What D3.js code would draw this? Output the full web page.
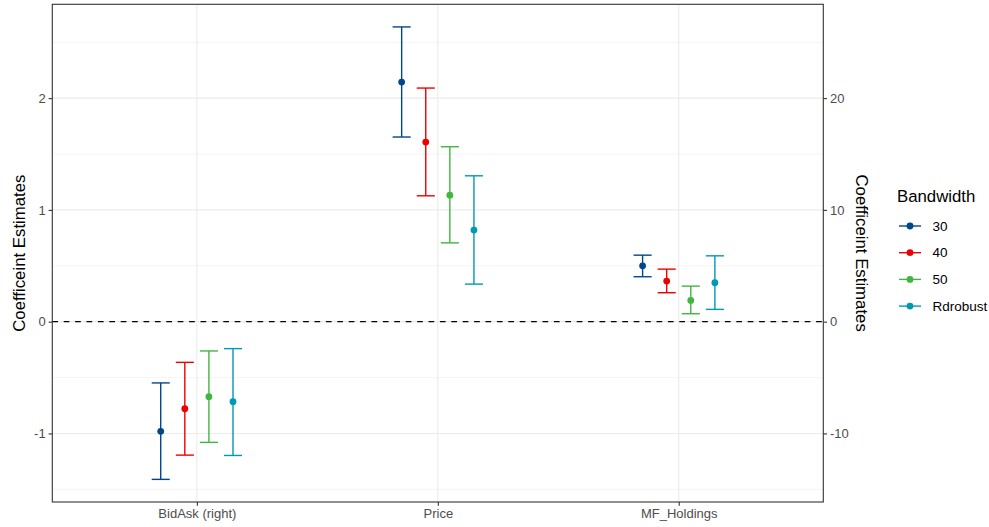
<!DOCTYPE html>
<html>
<head>
<meta charset="utf-8">
<script src="https://cdn.jsdelivr.net/npm/d3@7"></script>
<style>
  html, body { margin: 0; padding: 0; background: #ffffff; }
  svg { display: block; font-family: "Liberation Sans", Arial, Helvetica, sans-serif; }
</style>
</head>
<body>
<svg id="chart" width="989" height="527"></svg>
<script>
// Outcome variables (x categories) and bandwidth groups
const categories = ["BidAsk (right)", "Price", "MF_Holdings"];
const groups = ["30", "40", "50", "Rdrobust"];
const groupColors = ["#00468B", "#ED0000", "#42B540", "#0099B4"];

// Point estimates per group, in category order (BidAsk plotted on the /10 scale)
const est30       = [-0.981, 2.144, 0.500];
const est40       = [-0.779, 1.607, 0.363];
const est50       = [-0.671, 1.132, 0.190];
const estRd       = [-0.716, 0.819, 0.348];

// Lower and upper confidence bounds per group
const lo30        = [-1.411, 1.652, 0.402];
const hi30        = [-0.548, 2.637, 0.595];
const lo40        = [-1.194, 1.126, 0.259];
const hi40        = [-0.364, 2.090, 0.470];
const lo50        = [-1.080, 0.705, 0.071];
const hi50        = [-0.262, 1.565, 0.318];
const loRd        = [-1.197, 0.336, 0.110];
const hiRd        = [-0.241, 1.305, 0.589];

// Axis ticks
const leftTicks = [-1, 0, 1, 2];
const minorTicks = [-1.5, -0.5, 0.5, 1.5, 2.5];
const rightTicks = [-10, 0, 10, 20];
const secondaryFactor = 10;

const estimates = [est30, est40, est50, estRd];
const lowers = [lo30, lo40, lo50, loRd];
const uppers = [hi30, hi40, hi50, hiRd];

const rows = [];
groups.forEach((g, gi) => {
  categories.forEach((c, ci) => {
    rows.push({ group: g, gi, category: c, est: estimates[gi][ci], lo: lowers[gi][ci], hi: uppers[gi][ci] });
  });
});

const svg = d3.select("#chart");
const panel = { left: 52.3, right: 823.3, top: 4.3, bottom: 502 };

// Continuous y with 5% expansion on each side
const yMin = d3.min(rows, d => d.lo);
const yMax = d3.max(rows, d => d.hi);
const pad = (yMax - yMin) * 0.05;
const y = d3.scaleLinear().domain([yMin - pad, yMax + pad]).range([panel.bottom, panel.top]);
const ySec = d3.scaleLinear().domain(y.domain().map(v => v * secondaryFactor)).range(y.range());

// Discrete x with ggplot-style 0.6 expansion
const x = d3.scalePoint().domain(categories).range([panel.left, panel.right]).padding(0.6);
const step = x.step();
const dodgeWidth = 0.4 * step;
const slot = dodgeWidth / groups.length;
const capHalf = (0.3 / groups.length) * step / 2;
const color = d3.scaleOrdinal().domain(groups).range(groupColors);
const xPos = d => x(d.category) - dodgeWidth / 2 + slot * (d.gi + 0.5);

// Grid lines
const grid = svg.append("g");
grid.selectAll(".minor").data(minorTicks).join("line")
  .attr("x1", panel.left).attr("x2", panel.right)
  .attr("y1", d => y(d)).attr("y2", d => y(d))
  .attr("stroke", "#EBEBEB").attr("stroke-width", 0.55);
grid.selectAll(".major").data(leftTicks).join("line")
  .attr("x1", panel.left).attr("x2", panel.right)
  .attr("y1", d => y(d)).attr("y2", d => y(d))
  .attr("stroke", "#EBEBEB").attr("stroke-width", 1.1);
grid.selectAll(".vmajor").data(categories).join("line")
  .attr("x1", d => x(d)).attr("x2", d => x(d))
  .attr("y1", panel.top).attr("y2", panel.bottom)
  .attr("stroke", "#EBEBEB").attr("stroke-width", 1.1);

// Zero reference line
svg.append("line")
  .attr("x1", panel.left).attr("x2", panel.right)
  .attr("y1", y(0)).attr("y2", y(0))
  .attr("stroke", "#000").attr("stroke-width", 1.4)
  .attr("stroke-dasharray", "5.7,5.7");

// Error bars
const bars = svg.append("g").selectAll("g").data(rows).join("g")
  .attr("stroke", d => color(d.group)).attr("stroke-width", 1.4);
bars.append("line")
  .attr("x1", xPos).attr("x2", xPos)
  .attr("y1", d => y(d.lo)).attr("y2", d => y(d.hi));
bars.append("line")
  .attr("x1", d => xPos(d) - capHalf).attr("x2", d => xPos(d) + capHalf)
  .attr("y1", d => y(d.lo)).attr("y2", d => y(d.lo));
bars.append("line")
  .attr("x1", d => xPos(d) - capHalf).attr("x2", d => xPos(d) + capHalf)
  .attr("y1", d => y(d.hi)).attr("y2", d => y(d.hi));

// Point estimates
svg.append("g").selectAll("circle").data(rows).join("circle")
  .attr("cx", xPos).attr("cy", d => y(d.est)).attr("r", 3.4)
  .attr("fill", d => color(d.group));

// Panel border
svg.append("rect")
  .attr("x", panel.left).attr("y", panel.top)
  .attr("width", panel.right - panel.left).attr("height", panel.bottom - panel.top)
  .attr("fill", "none").attr("stroke", "#333333").attr("stroke-width", 1.1);

// Axes (plain hyphen for negative labels)
const intLabel = d => String(d);
function styleAxis(g) {
  g.select(".domain").remove();
  g.selectAll(".tick line").attr("stroke", "#333333").attr("stroke-width", 1.1);
  g.selectAll(".tick text").attr("fill", "#4D4D4D").style("font-size", "13px")
    .style("font-family", "'Liberation Sans', Arial, sans-serif");
}
svg.append("g").attr("transform", `translate(${panel.left},0)`)
  .call(d3.axisLeft(y).tickValues(leftTicks).tickFormat(intLabel).tickSize(3.7).tickPadding(3))
  .call(styleAxis);
svg.append("g").attr("transform", `translate(${panel.right},0)`)
  .call(d3.axisRight(ySec).tickValues(rightTicks).tickFormat(intLabel).tickSize(3.7).tickPadding(3))
  .call(styleAxis);
svg.append("g").attr("transform", `translate(0,${panel.bottom})`)
  .call(d3.axisBottom(x).tickSize(3.7).tickPadding(3))
  .call(styleAxis);

// Axis titles
const midY = (panel.top + panel.bottom) / 2;
svg.append("text")
  .attr("transform", `translate(24.5,${midY}) rotate(-90)`)
  .attr("text-anchor", "middle").attr("fill", "#000").style("font-size", "16.8px")
  .text("Coefficeint Estimates");
svg.append("text")
  .attr("transform", `translate(856,${midY}) rotate(90)`)
  .attr("text-anchor", "middle").attr("fill", "#000").style("font-size", "16.8px")
  .text("Coefficeint Estimates");

// Legend
const legend = svg.append("g").attr("transform", "translate(897,0)");
legend.append("text").attr("x", 0).attr("y", 202)
  .attr("fill", "#000").style("font-size", "16.8px").text("Bandwidth");
const keys = legend.selectAll(".key").data(groups).join("g")
  .attr("transform", (d, i) => `translate(0,${226 + i * 26.7})`);
keys.append("line").attr("x1", 2).attr("x2", 24).attr("y1", 0).attr("y2", 0)
  .attr("stroke", d => color(d)).attr("stroke-width", 1.4);
keys.append("circle").attr("cx", 13).attr("cy", 0).attr("r", 3.4).attr("fill", d => color(d));
keys.append("text").attr("x", 35.5).attr("y", 0).attr("dy", "0.35em")
  .attr("fill", "#000").style("font-size", "13.5px").text(d => d);
</script>
</body>
</html>
